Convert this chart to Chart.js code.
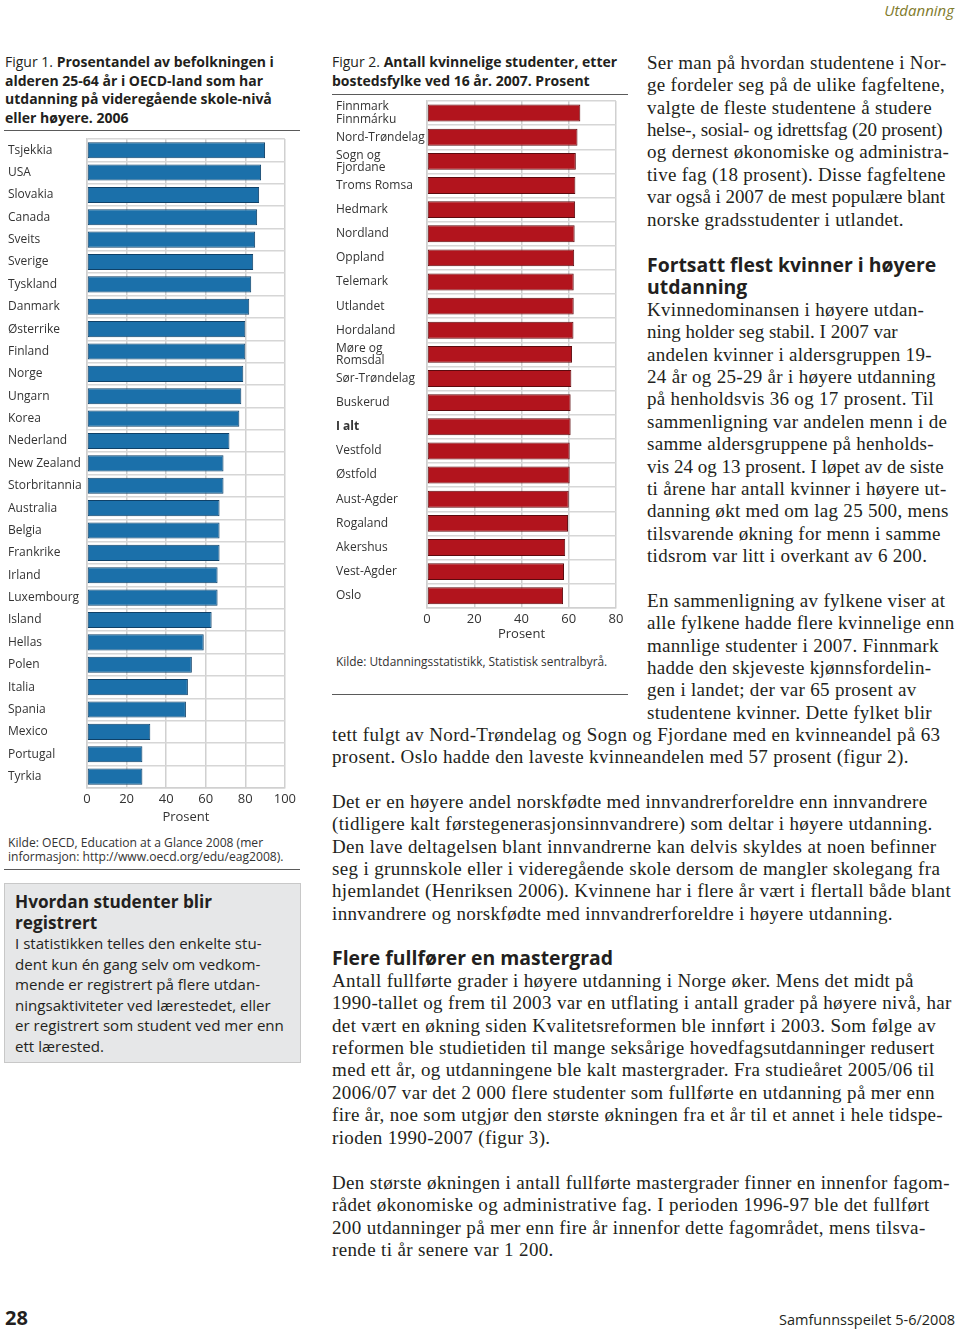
<!DOCTYPE html>
<html>
<head>
<meta charset="utf-8">
<script src="https://cdn.jsdelivr.net/npm/chart.js@4/dist/chart.umd.min.js"></script>
<style>
  body { margin: 0; width: 960px; height: 1329px; background: #fff; position: relative; overflow: hidden; }
  .t { position: absolute; white-space: nowrap; color: #231f20; }
  .sans { font-family: 'Open Sans', 'Noto Sans', sans-serif; }
  .serif { font-family: 'Liberation Serif', 'DejaVu Serif', serif; font-size: 19px; line-height: 22.4px; letter-spacing: 0.35px; }
  .col { letter-spacing: 0.3px; }
  .tight { letter-spacing: -0.15px; }
  .snug { letter-spacing: 0px; }
  .h { font-family: 'Open Sans', 'Noto Sans', sans-serif; font-weight: bold; font-size: 19.4px; line-height: 22.4px; }
  .rule { position: absolute; height: 0; border-top: 1.5px solid #5a5a5a; }
  canvas { position: absolute; }
</style>
</head>
<body>

<div class="t sans" style="right:6px; top:0px; font-size:15px; line-height:20px; font-style:italic; color:#7f7b2c;">Utdanning</div>

<!-- Figur 1 -->
<div class="t sans" style="left:5px; top:53px; font-size:14px; line-height:18.6px;">Figur 1. <b>Prosentandel av befolkningen i<br>alderen 25-64 år i OECD-land som har<br>utdanning på videregående skole-nivå<br>eller høyere. 2006</b></div>
<div class="rule" style="left:4px; top:130px; width:296px;"></div>
<canvas id="fig1" width="300" height="690" style="left:0px; top:137px;"></canvas>
<div class="t sans" style="left:8px; top:836px; font-size:12.1px; line-height:14px; color:#333;">Kilde: OECD, Education at a Glance 2008 (mer<br>informasjon: http://www.oecd.org/edu/eag2008).</div>
<div class="rule" style="left:4px; top:869px; width:296px;"></div>

<div style="position:absolute; left:4px; top:883px; width:295px; height:178px; background:#e6e7e8; border:1px solid #c8c8c8;"></div>
<div class="t sans" style="left:15px; top:892px; font-size:17.2px; line-height:20.5px; font-weight:bold;">Hvordan studenter blir<br>registrert</div>
<div class="t sans" style="left:15px; top:933px; font-size:15.1px; line-height:20.5px;">I statistikken telles den enkelte stu-<br>dent kun én gang selv om vedkom-<br>mende er registrert på flere utdan-<br>ningsaktiviteter ved lærestedet, eller<br>er registrert som student ved mer enn<br>ett lærested.</div>

<!-- Figur 2 -->
<div class="t sans" style="left:332px; top:53px; font-size:14px; line-height:18.6px;">Figur 2. <b>Antall kvinnelige studenter, etter<br>bostedsfylke ved 16 år. 2007. Prosent</b></div>
<div class="rule" style="left:332px; top:94px; width:296px;"></div>
<canvas id="fig2" width="300" height="545" style="left:330px; top:99px;"></canvas>
<div class="t sans" style="left:336px; top:654px; font-size:11.9px; line-height:14px; color:#333;">Kilde: Utdanningsstatistikk, Statistisk sentralbyrå.</div>
<div class="rule" style="left:332px; top:694px; width:296px;"></div>

<!-- right column text -->
<div class="t serif col" style="left:647px; top:51.8px;">Ser man på hvordan studentene i Nor-<br>ge fordeler seg på de ulike fagfeltene,<br>valgte de fleste studentene å studere<br><span class="tight">helse-, sosial- og idrettsfag (20 prosent)</span><br>og dernest økonomiske og administra-<br>tive fag (18 prosent). Disse fagfeltene<br><span class="snug">var også i 2007 de mest populære blant</span><br>norske gradsstudenter i utlandet.</div>
<div class="t h" style="left:647px; top:253.8px;">Fortsatt flest kvinner i høyere<br>utdanning</div>
<div class="t serif col" style="left:647px; top:298.8px;">Kvinnedominansen i høyere utdan-<br><span class="snug">ning holder seg stabil. I 2007 var</span><br>andelen kvinner i aldersgruppen 19-<br>24 år og 25-29 år i høyere utdanning<br>på henholdsvis 36 og 17 prosent. Til<br>sammenligning var andelen menn i de<br>samme aldersgruppene på henholds-<br><span class="snug">vis 24 og 13 prosent. I løpet av de siste</span><br>ti årene har antall kvinner i høyere ut-<br>danning økt med om lag 25 500, mens<br>tilsvarende økning for menn i samme<br>tidsrom var litt i overkant av 6 200.</div>
<div class="t serif col" style="left:647px; top:589.8px;">En sammenligning av fylkene viser at<br>alle fylkene hadde flere kvinnelige enn<br>mannlige studenter i 2007. Finnmark<br>hadde den skjeveste kjønnsfordelin-<br>gen i landet; der var 65 prosent av<br>studentene kvinner. Dette fylket blir</div>
<div class="t serif" style="left:332px; top:723.8px;">tett fulgt av Nord-Trøndelag og Sogn og Fjordane med en kvinneandel på 63<br>prosent. Oslo hadde den laveste kvinneandelen med 57 prosent (figur 2).</div>
<div class="t serif" style="left:332px; top:790.8px;">Det er en høyere andel norskfødte med innvandrerforeldre enn innvandrere<br>(tidligere kalt førstegenerasjonsinnvandrere) som deltar i høyere utdanning.<br>Den lave deltagelsen blant innvandrerne kan delvis skyldes at noen befinner<br>seg i grunnskole eller i videregående skole dersom de mangler skolegang fra<br>hjemlandet (Henriksen 2006). Kvinnene har i flere år vært i flertall både blant<br>innvandrere og norskfødte med innvandrerforeldre i høyere utdanning.</div>
<div class="t h" style="left:332px; top:946.8px;">Flere fullfører en mastergrad</div>
<div class="t serif" style="left:332px; top:969.8px;">Antall fullførte grader i høyere utdanning i Norge øker. Mens det midt på<br>1990-tallet og frem til 2003 var en utflating i antall grader på høyere nivå, har<br>det vært en økning siden Kvalitetsreformen ble innført i 2003. Som følge av<br>reformen ble studietiden til mange seksårige hovedfagsutdanninger redusert<br>med ett år, og utdanningene ble kalt mastergrader. Fra studieåret 2005/06 til<br>2006/07 var det 2 000 flere studenter som fullførte en utdanning på mer enn<br>fire år, noe som utgjør den største økningen fra et år til et annet i hele tidspe-<br>rioden 1990-2007 (figur 3).</div>
<div class="t serif" style="left:332px; top:1171.8px;">Den største økningen i antall fullførte mastergrader finner en innenfor fagom-<br>rådet økonomiske og administrative fag. I perioden 1996-97 ble det fullført<br>200 utdanninger på mer enn fire år innenfor dette fagområdet, mens tilsva-<br>rende ti år senere var 1 200.</div>

<div class="t sans" style="left:5px; top:1304px; font-size:20px; line-height:28px; font-weight:bold;">28</div>
<div class="t sans" style="right:5px; top:1309px; font-size:14.5px; line-height:22px;">Samfunnsspeilet 5-6/2008</div>

<script>
var SANS = "'Open Sans', 'Noto Sans', sans-serif";

// Figur 1: andel 25-64 år med minst videregående, 2006
var countries = ['Tsjekkia', 'USA', 'Slovakia', 'Canada', 'Sveits', 'Sverige', 'Tyskland', 'Danmark',
  'Østerrike', 'Finland', 'Norge', 'Ungarn', 'Korea', 'Nederland', 'New Zealand', 'Storbritannia',
  'Australia', 'Belgia', 'Frankrike', 'Irland', 'Luxembourg', 'Island', 'Hellas', 'Polen', 'Italia',
  'Spania', 'Mexico', 'Portugal', 'Tyrkia'];
var shareOECD = [90, 88, 87, 86, 85, 84, 83, 82, 80, 80, 79, 78, 77, 72, 69, 69, 67, 67, 67, 66, 66,
  63, 59, 53, 51, 50, 32, 28, 28];
var ticks1 = [0, 20, 40, 60, 80, 100];

// Figur 2: kvinneandel blant studenter etter bostedsfylke, 2007
var counties = [['Finnmark', 'Finnmárku'], 'Nord-Trøndelag', ['Sogn og', 'Fjordane'], 'Troms Romsa',
  'Hedmark', 'Nordland', 'Oppland', 'Telemark', 'Utlandet', 'Hordaland', ['Møre og', 'Romsdal'],
  'Sør-Trøndelag', 'Buskerud', 'I alt', 'Vestfold', 'Østfold', 'Aust-Agder', 'Rogaland', 'Akershus',
  'Vest-Agder', 'Oslo'];
var shareWomen = [64.9, 63.7, 63.0, 62.8, 62.7, 62.5, 62.3, 62.1, 62.1, 62.0, 61.4, 61.1, 60.8, 60.8,
  60.4, 60.4, 60.0, 59.7, 58.5, 58.0, 57.6];
var ticks2 = [0, 20, 40, 60, 80];

function barChart(id, labels, values, tickVals, color, edge, opts) {
  return new Chart(document.getElementById(id), {
    type: 'bar',
    data: {
      labels: labels,
      datasets: [{
        data: values,
        backgroundColor: color,
        borderColor: edge,
        borderWidth: 1,
        borderSkipped: false,
        barPercentage: opts.bar,
        categoryPercentage: 1
      }]
    },
    options: {
      indexAxis: 'y',
      responsive: false,
      animation: false,
      devicePixelRatio: 1,
      layout: { padding: opts.padding },
      plugins: { legend: { display: false }, tooltip: { enabled: false } },
      scales: {
        x: {
          min: tickVals[0],
          max: tickVals[tickVals.length - 1],
          afterBuildTicks: function (axis) { axis.ticks = tickVals.map(function (v) { return { value: v }; }); },
          grid: { color: '#d0d0d0', lineWidth: 1.5, drawTicks: false },
          border: { color: '#d0d0d0', width: 1.5 },
          ticks: { color: '#333', padding: 4, font: { family: SANS, size: 13 } },
          title: { display: true, text: 'Prosent', color: '#333', padding: { top: opts.titlePad, bottom: 0 },
            font: { family: SANS, size: 13 } }
        },
        y: {
          afterFit: function (axis) {
            axis.width = opts.yWidth;
            // labels sit in the middle of their bands, no extra room needed above/below
            axis.paddingTop = 0;
            axis.paddingBottom = 0;
          },
          grid: { color: '#d6d6d6', lineWidth: 1.5, drawTicks: false },
          border: { color: '#d0d0d0', width: 1.5 },
          ticks: {
            autoSkip: false,
            crossAlign: 'far',
            color: '#333',
            font: function (ctx) {
              var bold = labels[ctx.index] === 'I alt';
              return { family: SANS, size: opts.labelSize, lineHeight: 1.02, weight: bold ? 'bold' : 'normal' };
            }
          }
        }
      }
    }
  });
}

barChart('fig1', countries, shareOECD, ticks1, '#1b70aa', '#0f4168',
  { bar: 0.72, yWidth: 79, titlePad: -2, labelSize: 12, padding: { left: 8, right: 15, top: 2, bottom: 2 } });
barChart('fig2', counties, shareWomen, ticks2, '#b2141d', '#5c0a0e',
  { bar: 0.70, yWidth: 91, titlePad: -5, labelSize: 12, padding: { left: 6, right: 14, top: 2, bottom: 2 } });
</script>
</body>
</html>
